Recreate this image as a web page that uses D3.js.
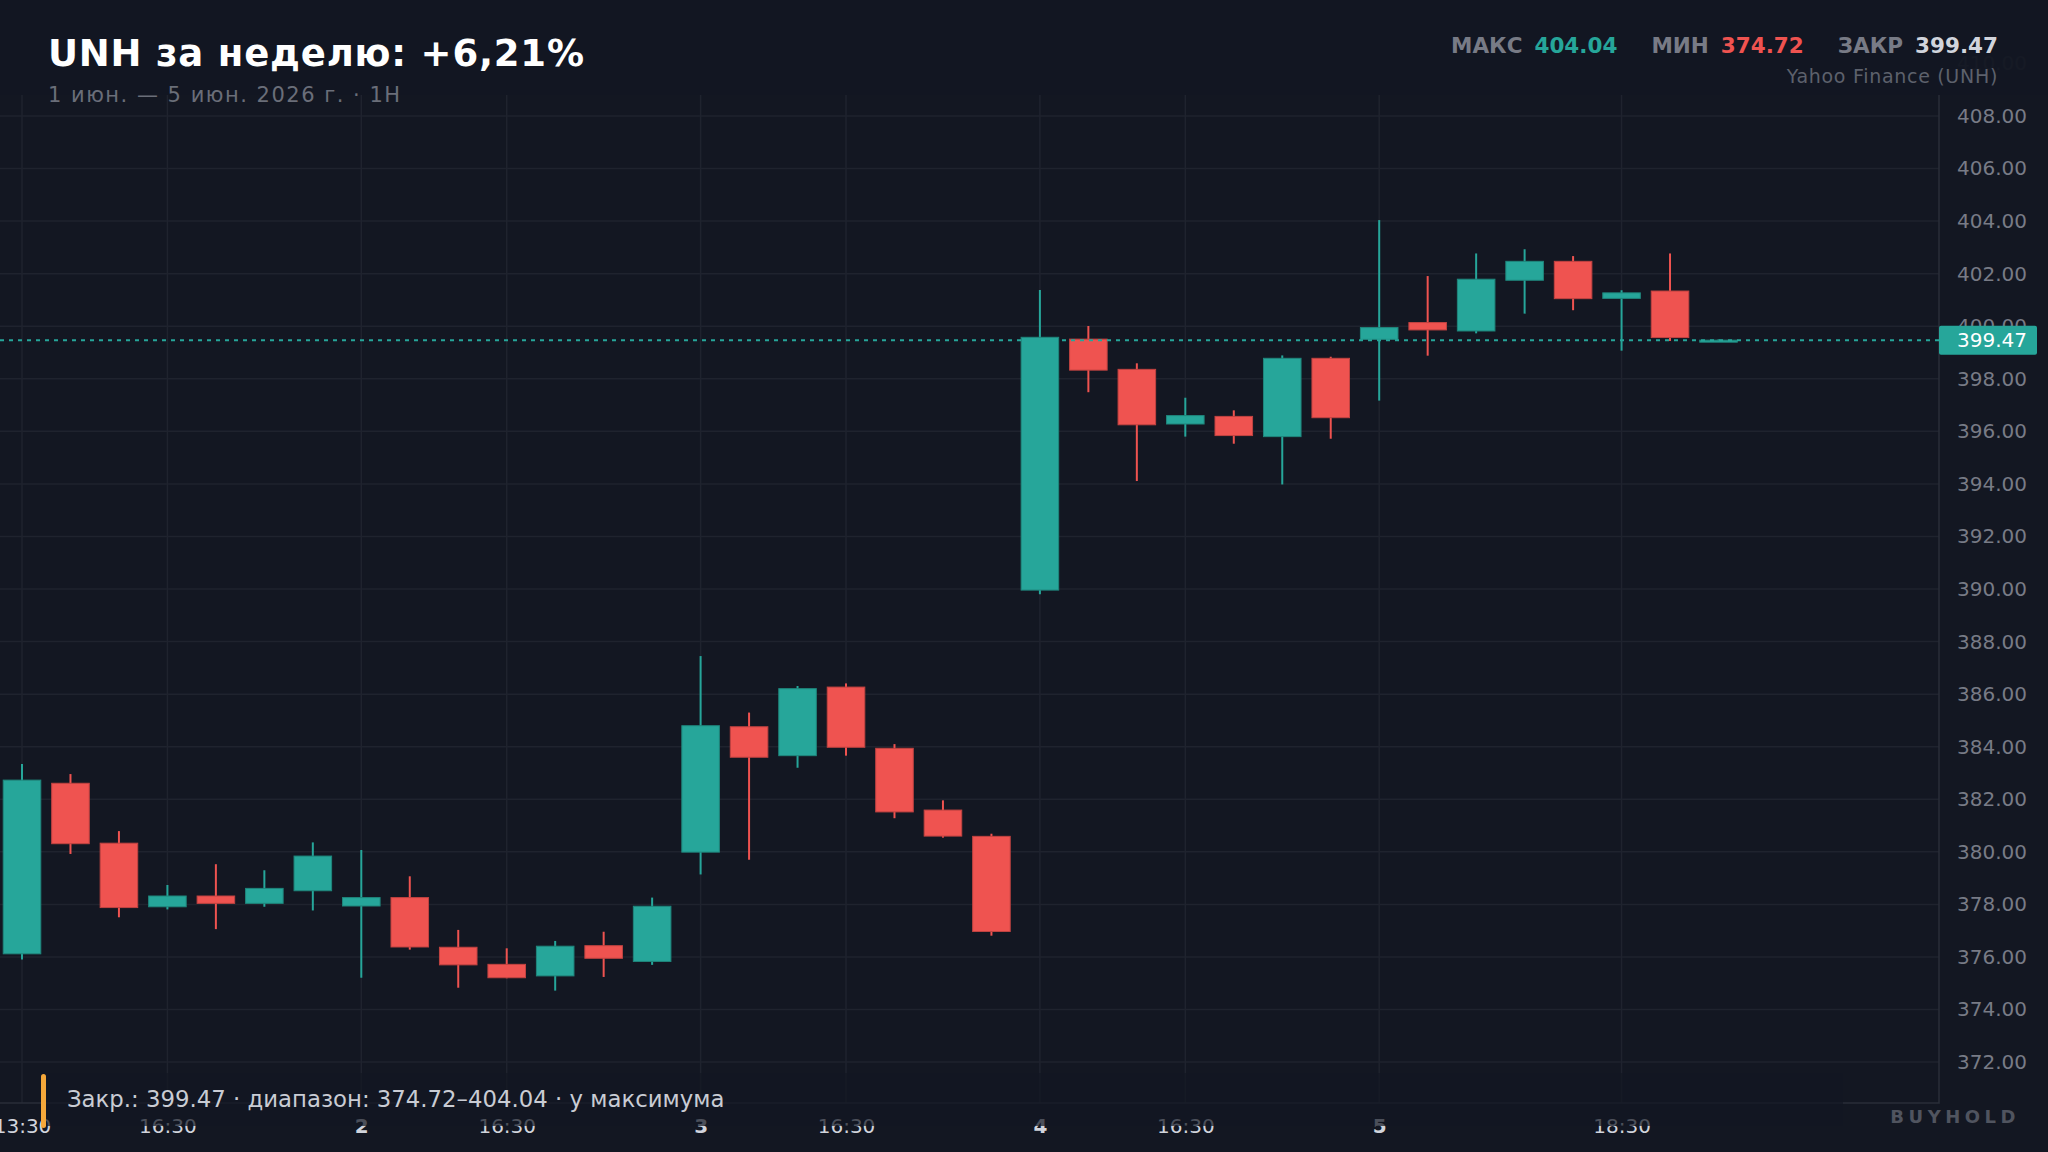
<!DOCTYPE html>
<html>
<head>
<meta charset="utf-8">
<script src="https://cdn.jsdelivr.net/npm/d3@7"></script>
<style>
  html, body { margin: 0; padding: 0; background: #131722; }
  svg { display: block; font-family: "DejaVu Sans", sans-serif; }
</style>
</head>
<body>
<svg id="chart" width="2048" height="1152"></svg>
<script>
// hourly candles, 1-5 June (UTC hours)
const opens  = [376.12, 382.61, 380.33, 377.91, 378.32, 378.04, 378.52,
                377.94, 378.26, 376.37, 375.72, 375.28, 376.43, 375.83,
                379.99, 384.76, 383.66, 386.27, 383.94, 381.59, 380.59,
                389.96, 399.51, 398.36, 396.28, 396.57, 395.80, 398.78,
                399.50, 400.14, 399.82, 401.75, 402.47, 401.06, 401.34, 399.45];
const highs  = [383.34, 382.96, 380.79, 378.74, 379.53, 379.30, 380.36,
                380.07, 379.07, 377.03, 376.33, 376.61, 376.96, 378.26,
                387.45, 385.30, 386.31, 386.41, 384.10, 381.96, 380.69,
                401.38, 400.01, 398.59, 397.28, 396.80, 398.89, 398.84,
                404.04, 401.91, 402.77, 402.93, 402.67, 401.37, 402.77, 399.50];
const lows   = [375.90, 379.92, 377.51, 377.81, 377.06, 377.91, 377.77,
                375.21, 376.28, 374.83, 375.19, 374.72, 375.24, 375.70,
                379.14, 379.70, 383.20, 383.66, 381.28, 380.54, 376.81,
                389.80, 397.49, 394.11, 395.80, 395.53, 393.98, 395.72,
                397.17, 398.88, 399.73, 400.48, 400.61, 399.07, 399.44, 399.44];
const closes = [382.73, 380.31, 377.88, 378.32, 378.04, 378.61, 379.84,
                378.26, 376.38, 375.70, 375.21, 376.41, 375.95, 377.93,
                384.80, 383.60, 386.21, 383.98, 381.52, 380.60, 376.97,
                399.58, 398.33, 396.25, 396.60, 395.84, 398.78, 396.52,
                399.95, 399.86, 401.79, 402.47, 401.05, 401.27, 399.57, 399.47];

const tickIndex  = [0, 3, 7, 10, 14, 17, 21, 24, 28, 33];
const tickLabels = ["13:30", "16:30", "2", "16:30", "3", "16:30", "4", "16:30", "5", "18:30"];
const dayTicks   = ["2", "3", "4", "5"];
const priceTicks = d3.range(372, 411, 2);

const statLabels = ["МАКС", "МИН", "ЗАКР"];
const statValues = [404.04, 374.72, 399.47];
const weekChange = "+6,21%";

const W = 2048, H = 1152;
const plotRight = 1939, plotTop = 95, plotBottom = 1103;
const up = "#26a69a", down = "#ef5350", bg = "#131722", grid = "#1f232e";

const svg = d3.select("#chart");
svg.append("rect").attr("width", W).attr("height", H).attr("fill", bg);

const xScale = d3.scaleLinear().domain([0, 35]).range([22, 1718.5]);
const yScale = d3.scaleLinear().domain([372, 408]).range([1062.1, 116]);
const step = xScale(1) - xScale(0);
const bodyW = step * 0.775;

// gridlines
svg.append("g").selectAll("line.hgrid")
  .data(priceTicks.filter(d => d <= 408))
  .join("line")
  .attr("class", "hgrid")
  .attr("x1", 0).attr("x2", plotRight)
  .attr("y1", d => yScale(d)).attr("y2", d => yScale(d))
  .attr("stroke", grid).attr("stroke-width", 1.5);

svg.append("g").selectAll("line.vgrid")
  .data(tickIndex)
  .join("line")
  .attr("class", "vgrid")
  .attr("x1", d => xScale(d)).attr("x2", d => xScale(d))
  .attr("y1", plotTop).attr("y2", plotBottom)
  .attr("stroke", grid).attr("stroke-width", 1.5);

// plot border (right + bottom)
svg.append("path")
  .attr("d", `M0,${plotBottom}H${plotRight}V${plotTop}`)
  .attr("fill", "none").attr("stroke", "#2a2e39").attr("stroke-width", 1.5);

// candles
const candles = svg.append("g").selectAll("g.candle")
  .data(opens.map((o, i) => ({i, o, h: highs[i], l: lows[i], c: closes[i]})))
  .join("g")
  .attr("class", "candle");

candles.append("line")
  .attr("x1", d => xScale(d.i)).attr("x2", d => xScale(d.i))
  .attr("y1", d => yScale(d.h)).attr("y2", d => yScale(d.l))
  .attr("stroke", d => d.c >= d.o ? up : down)
  .attr("stroke-width", 2);

candles.append("rect")
  .attr("x", d => xScale(d.i) - bodyW / 2)
  .attr("width", bodyW)
  .attr("y", d => yScale(Math.max(d.o, d.c)))
  .attr("height", d => Math.max(2, Math.abs(yScale(d.o) - yScale(d.c))))
  .attr("fill", d => d.c >= d.o ? up : down)
  .attr("stroke", d => d3.color(d.c >= d.o ? up : down).darker(0.6))
  .attr("stroke-width", 1);

// last close line
const last = closes[closes.length - 1];
svg.append("line")
  .attr("x1", 0).attr("x2", plotRight)
  .attr("y1", yScale(last)).attr("y2", yScale(last))
  .attr("stroke", up).attr("stroke-width", 2)
  .attr("stroke-dasharray", "4 5");

// y axis
const yAxis = d3.axisRight(yScale).tickValues(priceTicks)
  .tickFormat(d3.format(".2f")).tickSize(0).tickPadding(18);
const yAxisG = svg.append("g")
  .attr("transform", `translate(${plotRight},0)`)
  .call(yAxis);
yAxisG.select(".domain").remove();
yAxisG.selectAll("text")
  .attr("fill", "#787b86").style("font-size", "20px")
  .style("font-family", "DejaVu Sans");

// last price badge
svg.append("rect")
  .attr("x", plotRight).attr("y", yScale(last) - 14.5)
  .attr("width", 98).attr("height", 29).attr("rx", 2)
  .attr("fill", up);
svg.append("text")
  .attr("x", plotRight + 18).attr("y", yScale(last)).attr("dy", "0.35em")
  .attr("fill", "#ffffff").style("font-size", "20px")
  .text(last.toFixed(2));

// x axis
const xAxis = d3.axisBottom(xScale).tickValues(tickIndex)
  .tickFormat((d, i) => tickLabels[i]).tickSize(0).tickPadding(16);
const xAxisG = svg.append("g")
  .attr("transform", `translate(0,${plotBottom})`)
  .call(xAxis);
xAxisG.select(".domain").remove();
xAxisG.selectAll("text")
  .attr("fill", "#d1d4dc")
  .style("font-size", "20px")
  .style("font-family", "DejaVu Sans")
  .style("font-weight", (d, i) => dayTicks.includes(tickLabels[i]) ? "bold" : "normal");

// header veil
svg.append("rect").attr("width", W).attr("height", plotTop)
  .attr("fill", bg).attr("opacity", 0.97);

svg.append("text")
  .attr("x", 48).attr("y", 66)
  .attr("fill", "#ffffff").style("font-size", "37px").style("font-weight", "bold")
  .style("letter-spacing", "0.8px")
  .text(`UNH за неделю: ${weekChange}`);
svg.append("text")
  .attr("x", 48).attr("y", 102)
  .attr("fill", "#6a6e79").style("font-size", "21px")
  .style("letter-spacing", "1.5px")
  .text("1 июн. — 5 июн. 2026 г. · 1H");

// stats top-right
const statColors = [up, down, "#d1d4dc"];
const stats = svg.append("text")
  .attr("x", 1998).attr("y", 53)
  .attr("text-anchor", "end")
  .style("font-size", "21.5px").style("font-weight", "bold");
statLabels.forEach((lab, i) => {
  stats.append("tspan").attr("dx", i === 0 ? 0 : 34)
    .attr("fill", "#787b86").text(lab);
  stats.append("tspan").attr("dx", 12)
    .attr("fill", statColors[i]).text(statValues[i].toFixed(2));
});
svg.append("text")
  .attr("x", 1998).attr("y", 83).attr("text-anchor", "end")
  .attr("fill", "#5d616c").style("font-size", "19px")
  .style("letter-spacing", "0.7px")
  .text("Yahoo Finance (UNH)");

// footer note
svg.append("rect")
  .attr("x", 41).attr("y", 1073).attr("width", 1843 - 41).attr("height", 53)
  .attr("fill", bg).attr("opacity", 0.7);
svg.append("rect")
  .attr("x", 41).attr("y", 1074).attr("width", 5).attr("height", 54).attr("rx", 2.5)
  .attr("fill", "#f5a83a");
svg.append("text")
  .attr("x", 67).attr("y", 1107)
  .attr("fill", "#c9ccd4").style("font-size", "22.8px")
  .text(`Закр.: ${statValues[2].toFixed(2)} · диапазон: ${statValues[1].toFixed(2)}–${statValues[0].toFixed(2)} · у максимума`);

svg.append("text")
  .attr("x", 2020).attr("y", 1123).attr("text-anchor", "end")
  .attr("fill", "#50545f").style("font-size", "18px").style("font-weight", "bold")
  .style("letter-spacing", "4.5px")
  .text("BUYHOLD");
</script>
</body>
</html>
